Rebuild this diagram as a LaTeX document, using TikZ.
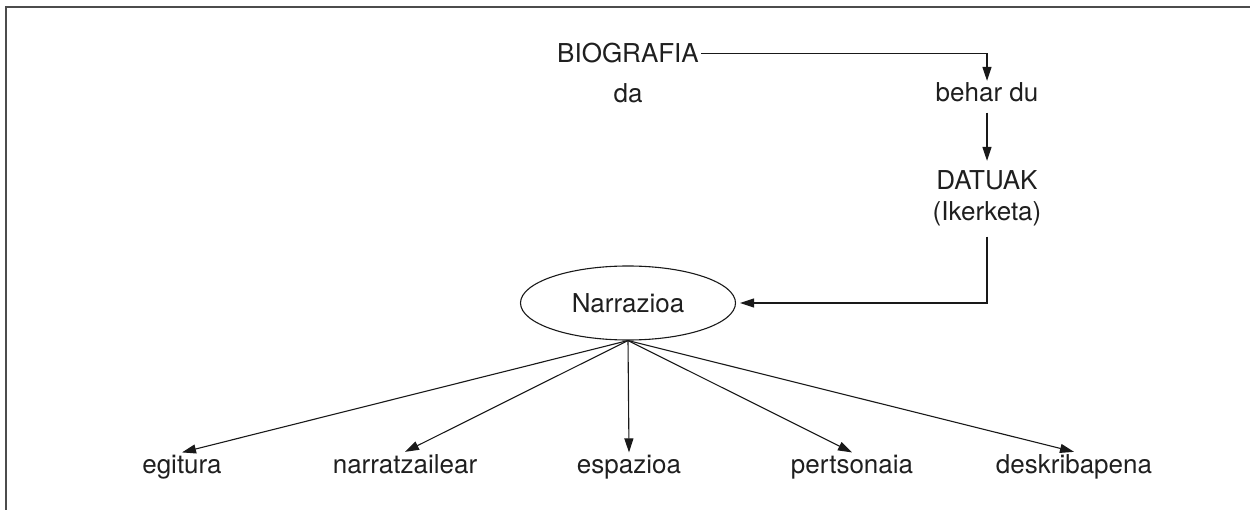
\documentclass[tikz,border=0pt]{standalone}
\usepackage{fontspec}
\setmainfont{TeX Gyre Heros}
\usetikzlibrary{arrows.meta,shapes.geometric}
\begin{document}
\begin{tikzpicture}[x=1pt,y=-1pt,
  lbl/.style={inner sep=2pt, font=\fontsize{26}{30}\selectfont, text=black!88},
  conn/.style={line width=1.1pt, draw=black!90, -{Triangle[length=14pt,width=9pt]}},
  frame/.style={line width=1.5pt, draw=black!70}]
\useasboundingbox (0,0) rectangle (1250,510);
\draw[frame] (1250,7) -- (6,7) -- (6,510);
\node[lbl,anchor=base] (bio) at (628,63) {BIOGRAFIA};
\node[lbl,anchor=base] (da) at (628,103) {da};
\node[lbl,anchor=base] (behar) at (987,102) {behar du};
\node[lbl,anchor=base] (datuak) at (987,190) {DATUAK};
\node[lbl,anchor=base] (iker) at (987,221) {(Ikerketa)};
\node[lbl,draw=black!90,line width=1.1pt,ellipse,inner sep=0pt,minimum width=215pt,minimum height=74pt] (narr) at (628,303) {Narrazioa};
\node[lbl,anchor=base] (egitura) at (182,473) {egitura};
\node[lbl,anchor=base] (narratz) at (405,473) {narratzailear};
\node[lbl,anchor=base] (espazioa) at (629,473) {espazioa};
\node[lbl,anchor=base] (pertsonaia) at (852,473) {pertsonaia};
\node[lbl,anchor=base] (deskr) at (1074,473) {deskribapena};
\draw[conn] (bio.east) -| (behar.north);
\draw[conn, shorten <=8pt, shorten >=8pt] (behar.south) -- (datuak.north);
\draw[conn, shorten <=8pt, shorten >=4pt] (iker.south) |- (narr.east);
\foreach \t in {egitura,narratz,espazioa,pertsonaia,deskr}
  \draw[conn] (narr.south) -- (\t.north);
\end{tikzpicture}
\end{document}
